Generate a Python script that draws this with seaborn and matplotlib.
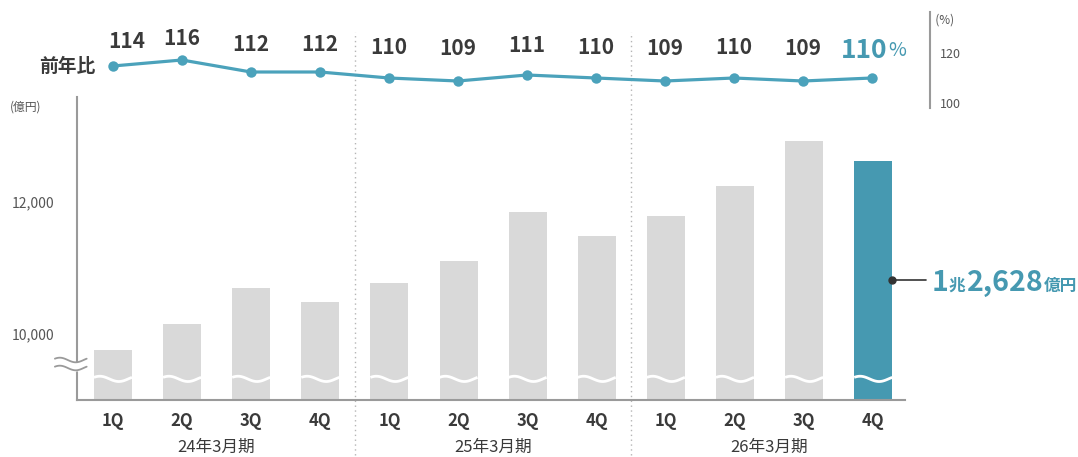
import numpy as np
import matplotlib
matplotlib.use("Agg")
import matplotlib.pyplot as plt
import seaborn as sns

# ---- data ----
quarters = ['1Q', '2Q', '3Q', '4Q', '1Q', '2Q', '3Q', '4Q', '1Q', '2Q', '3Q', '4Q']
fiscal_years = ['24年3月期', '25年3月期', '26年3月期']
sales = [9760, 10150, 10700, 10480, 10770, 11100, 11850, 11480, 11790, 12240, 12920, 12628]
yoy = [114, 116, 112, 112, 110, 109, 111, 110, 109, 110, 109, 110]
yticks_sales = [10000, 12000]
yticks_sales_labels = ['10,000', '12,000']
yticks_yoy = [100, 120]
yticks_yoy_labels = ['100', '120']

GRAY = '#d9d9d9'
TEAL = '#4699b1'
LINE = '#4ba2bb'
DARK = '#3a3a3a'
TICK = '#555555'
SPINE = '#9a9a9a'

sns.set_theme(style='white')
plt.rcParams['font.family'] = ['Noto Sans CJK JP', 'DejaVu Sans']

W, H = 1078, 457
fig = plt.figure(figsize=(W / 100, H / 100), dpi=100)
renderer = fig.canvas.get_renderer()

def fr(x0, y0, x1, y1):
    return [x0 / W, 1 - y1 / H, (x1 - x0) / W, (y1 - y0) / H]

# main bar axes
ax = fig.add_axes(fr(77, 97, 905, 400))
idx = list(range(len(sales)))
colors = [GRAY] * (len(sales) - 1) + [TEAL]
sns.barplot(x=idx, y=sales, hue=idx, palette=colors, legend=False, width=0.55,
            saturation=1, ax=ax, edgecolor='none', linewidth=0)
ax.set_xlim(-0.52, 11.46)
ax.set_ylim(9000, 13590)
for s in ['top', 'right']:
    ax.spines[s].set_visible(False)
for s in ['left', 'bottom']:
    ax.spines[s].set_color(SPINE)
    ax.spines[s].set_linewidth(1.5)
ax.set_yticks(yticks_sales)
ax.set_yticklabels(yticks_sales_labels, fontsize=10, color=TICK)
ax.tick_params(axis='y', length=0, pad=16)
ax.set_xticks(idx)
ax.set_xticklabels(quarters, fontsize=12, fontweight='bold', color=DARK)
ax.tick_params(axis='x', length=0, pad=9)
ax.set_xlabel('')
ax.set_ylabel('')
ax.grid(False)

# wavy breaks inside bars
t = np.linspace(0, 1, 60)
for i in idx:
    xs = i - 0.275 + 0.55 * t
    ys = 9320 + 40 * np.sin(2 * np.pi * t + 0.6)
    ax.plot(xs, ys, color='white', lw=2.0, zorder=4, solid_capstyle='butt')

# break mark on the axis
tb = np.linspace(0, 1, 40)
xb = -0.84 + 0.46 * tb
wave = 35 * np.sin(2 * np.pi * tb + 0.6)
ax.fill_between(xb, 9485 + wave, 9606 + wave, color='white', zorder=5, clip_on=False)
ax.plot(xb, 9485 + wave, color=SPINE, lw=1.3, zorder=6, clip_on=False)
ax.plot(xb, 9606 + wave, color=SPINE, lw=1.3, zorder=6, clip_on=False)

# separators
for xs in [3.5, 7.5]:
    ax.axvline(xs, ymin=(400 - 455) / 303, ymax=(400 - 32) / 303, clip_on=False,
               color='#b5b5b5', lw=1, ls=(0, (1, 2.5)), zorder=1)

# fiscal year labels
for k, fy in enumerate(fiscal_years):
    ax.text(4 * k + 1.5, -0.155, fy, transform=ax.get_xaxis_transform(),
            ha='center', va='center', fontsize=12, color=DARK)

# unit label
fig.text(10 / W, 1 - 107 / H, '(億円)', fontsize=8.5, color=TICK, va='center', ha='left')

# annotation on last bar
mid = (9000 + sales[-1]) / 2
ax.plot([11 + 0.275, 11.77], [mid, mid], color='#333333', lw=1.2, clip_on=False, zorder=6)
ax.plot([11 + 0.275], [mid], 'o', color='#333333', ms=5, clip_on=False, zorder=7)

cho = sales[-1] // 10000
oku = sales[-1] % 10000
parts = [(str(cho), 20.5, 'bold'), ('兆', 12, 'bold'), (f"{oku:,}", 20.5, 'bold'),
         ('億円', 12, 'bold')]
base_y = 10651
x_disp = ax.transData.transform((11.84, base_y))[0]
for s, fs, fw in parts:
    xd = ax.transData.inverted().transform((x_disp, 0))[0]
    tt = ax.text(xd, base_y, s, fontsize=fs, fontweight=fw, color=TEAL,
                 va='baseline', ha='left', clip_on=False)
    bb = tt.get_window_extent(renderer=renderer)
    x_disp = bb.x1 + 1

# ---- top line axes ----
ax2 = fig.add_axes(fr(77, 12, 930, 108))
ax2.set_xlim(-0.52, 11.84)
ax2.set_ylim(100, 132)
sns.lineplot(x=idx, y=yoy, ax=ax2, color=LINE, lw=2.3, marker='o', markersize=7.5,
             markeredgewidth=0, markerfacecolor=LINE)
ax2.patch.set_alpha(0)
for s in ['top', 'left', 'bottom', 'right']:
    ax2.spines[s].set_visible(False)
ax2.set_yticks([])
ax2.set_xticks([])
ax2.set_xlabel('')
ax2.set_ylabel('')
ax2.grid(False)

# right-hand percentage scale
ax3 = ax2.twinx()
ax3.set_ylim(98, 136.4)
for s in ['top', 'left', 'bottom']:
    ax3.spines[s].set_visible(False)
ax3.spines['right'].set_color(SPINE)
ax3.spines['right'].set_linewidth(1.5)
ax3.set_yticks(yticks_yoy)
ax3.set_yticklabels(yticks_yoy_labels, fontsize=9, color=TICK)
ax3.tick_params(axis='y', length=0, pad=7)
ax3.grid(False)
ax3.text(1.0, 0.92, '  (%)', transform=ax3.transAxes, fontsize=8.5, color=TICK,
         ha='left', va='center')

for i, v in enumerate(yoy):
    ly = 120.67 + 0.5 * (v - 110)
    if i < len(yoy) - 1:
        dx = 0.2 if i == 0 else 0.0
        ax2.text(i + dx, ly - 0.5, str(v), ha='center', va='center', fontsize=15,
                 fontweight='bold', color=DARK)
    else:
        t_num = ax2.text(i - 0.45, ly - 1.6, str(v), ha='left', va='baseline',
                         fontsize=19, fontweight='bold', color=TEAL)
        # position baseline so the glyph centre sits where the label should
        t_num.set_va('center')
        bb = t_num.get_window_extent(renderer=renderer)
        xd = ax2.transData.inverted().transform((bb.x1 + 1, 0))[0]
        yd = ax2.transData.inverted().transform((0, bb.y0 + 0.32 * bb.height))[1]
        ax2.text(xd, yd, '%', ha='left', va='baseline', fontsize=14, color=TEAL)

ax2.text(-0.26, yoy[0], '前年比', ha='right', va='center', fontsize=13.5,
         fontweight='bold', color=DARK)

fig.savefig('out.png', dpi=100, facecolor='white')
